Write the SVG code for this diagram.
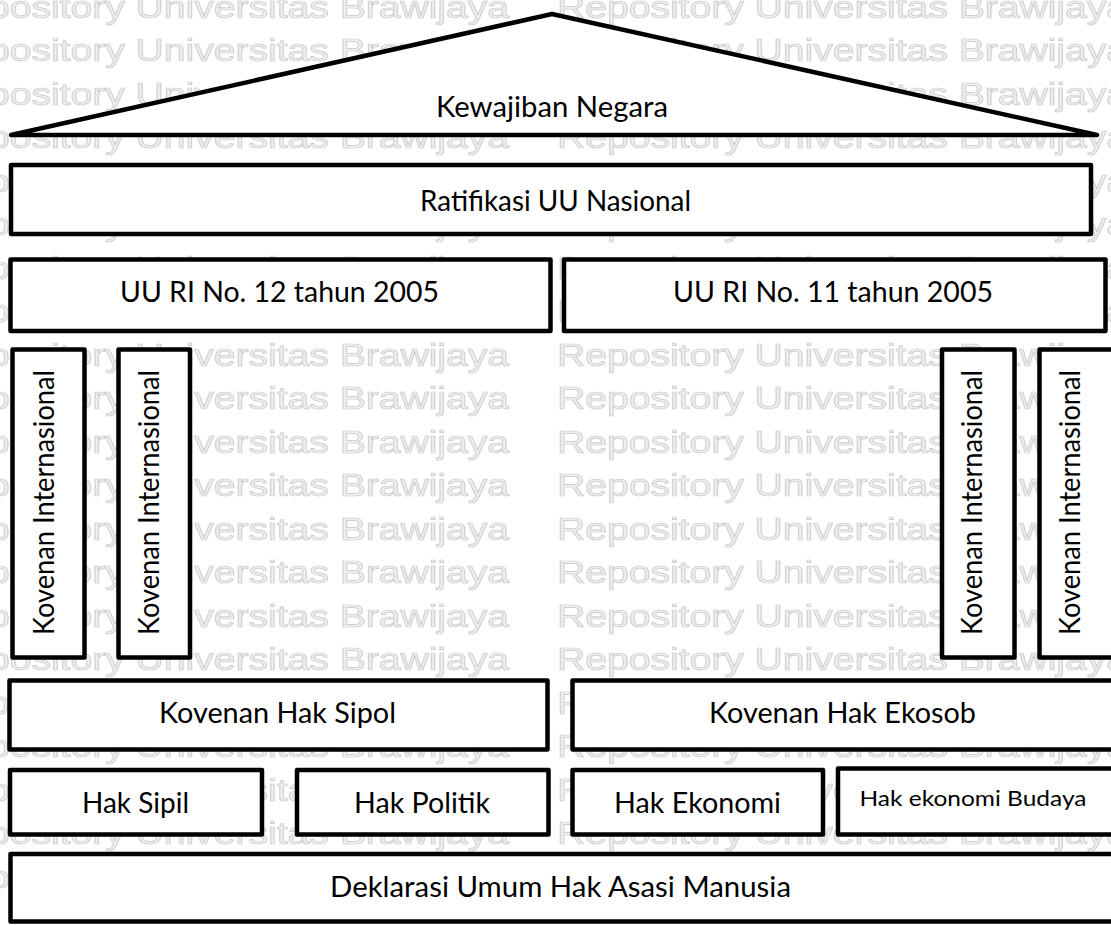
<svg xmlns="http://www.w3.org/2000/svg" width="1111" height="925" viewBox="0 0 1111 925">
  <style>
    .wm { font-family: "Liberation Sans", Arial, sans-serif; font-size: 31px; fill: #efefef; stroke: #c8c8c8; stroke-width: 0.7; }
    .box { fill: #ffffff; stroke: #000000; stroke-width: 4.5; stroke-linejoin: round; }
    .lbl { font-family: Lato, "Open Sans", sans-serif; font-size: 28px; fill: #000000; text-anchor: middle; }
    .sm { font-size: 22px; }
  </style>

  <rect width="1111" height="925" fill="#ffffff"/>

  <!-- background watermark rows -->
  <g id="watermark" class="wm">
    <text x="-62" y="17.5" textLength="571" lengthAdjust="spacingAndGlyphs">Repository Universitas Brawijaya</text>
    <text x="557" y="17.5" textLength="571" lengthAdjust="spacingAndGlyphs">Repository Universitas Brawijaya</text>
    <text x="-62" y="61" textLength="571" lengthAdjust="spacingAndGlyphs">Repository Universitas Brawijaya</text>
    <text x="557" y="61" textLength="571" lengthAdjust="spacingAndGlyphs">Repository Universitas Brawijaya</text>
    <text x="-62" y="104.5" textLength="571" lengthAdjust="spacingAndGlyphs">Repository Universitas Brawijaya</text>
    <text x="557" y="104.5" textLength="571" lengthAdjust="spacingAndGlyphs">Repository Universitas Brawijaya</text>
    <text x="-62" y="148" textLength="571" lengthAdjust="spacingAndGlyphs">Repository Universitas Brawijaya</text>
    <text x="557" y="148" textLength="571" lengthAdjust="spacingAndGlyphs">Repository Universitas Brawijaya</text>
    <text x="-62" y="191.5" textLength="571" lengthAdjust="spacingAndGlyphs">Repository Universitas Brawijaya</text>
    <text x="557" y="191.5" textLength="571" lengthAdjust="spacingAndGlyphs">Repository Universitas Brawijaya</text>
    <text x="-62" y="235" textLength="571" lengthAdjust="spacingAndGlyphs">Repository Universitas Brawijaya</text>
    <text x="557" y="235" textLength="571" lengthAdjust="spacingAndGlyphs">Repository Universitas Brawijaya</text>
    <text x="-62" y="278.5" textLength="571" lengthAdjust="spacingAndGlyphs">Repository Universitas Brawijaya</text>
    <text x="557" y="278.5" textLength="571" lengthAdjust="spacingAndGlyphs">Repository Universitas Brawijaya</text>
    <text x="-62" y="322" textLength="571" lengthAdjust="spacingAndGlyphs">Repository Universitas Brawijaya</text>
    <text x="557" y="322" textLength="571" lengthAdjust="spacingAndGlyphs">Repository Universitas Brawijaya</text>
    <text x="-62" y="365.5" textLength="571" lengthAdjust="spacingAndGlyphs">Repository Universitas Brawijaya</text>
    <text x="557" y="365.5" textLength="571" lengthAdjust="spacingAndGlyphs">Repository Universitas Brawijaya</text>
    <text x="-62" y="409" textLength="571" lengthAdjust="spacingAndGlyphs">Repository Universitas Brawijaya</text>
    <text x="557" y="409" textLength="571" lengthAdjust="spacingAndGlyphs">Repository Universitas Brawijaya</text>
    <text x="-62" y="452.5" textLength="571" lengthAdjust="spacingAndGlyphs">Repository Universitas Brawijaya</text>
    <text x="557" y="452.5" textLength="571" lengthAdjust="spacingAndGlyphs">Repository Universitas Brawijaya</text>
    <text x="-62" y="496" textLength="571" lengthAdjust="spacingAndGlyphs">Repository Universitas Brawijaya</text>
    <text x="557" y="496" textLength="571" lengthAdjust="spacingAndGlyphs">Repository Universitas Brawijaya</text>
    <text x="-62" y="539.5" textLength="571" lengthAdjust="spacingAndGlyphs">Repository Universitas Brawijaya</text>
    <text x="557" y="539.5" textLength="571" lengthAdjust="spacingAndGlyphs">Repository Universitas Brawijaya</text>
    <text x="-62" y="583" textLength="571" lengthAdjust="spacingAndGlyphs">Repository Universitas Brawijaya</text>
    <text x="557" y="583" textLength="571" lengthAdjust="spacingAndGlyphs">Repository Universitas Brawijaya</text>
    <text x="-62" y="626.5" textLength="571" lengthAdjust="spacingAndGlyphs">Repository Universitas Brawijaya</text>
    <text x="557" y="626.5" textLength="571" lengthAdjust="spacingAndGlyphs">Repository Universitas Brawijaya</text>
    <text x="-62" y="670" textLength="571" lengthAdjust="spacingAndGlyphs">Repository Universitas Brawijaya</text>
    <text x="557" y="670" textLength="571" lengthAdjust="spacingAndGlyphs">Repository Universitas Brawijaya</text>
    <text x="-62" y="713.5" textLength="571" lengthAdjust="spacingAndGlyphs">Repository Universitas Brawijaya</text>
    <text x="557" y="713.5" textLength="571" lengthAdjust="spacingAndGlyphs">Repository Universitas Brawijaya</text>
    <text x="-62" y="757" textLength="571" lengthAdjust="spacingAndGlyphs">Repository Universitas Brawijaya</text>
    <text x="557" y="757" textLength="571" lengthAdjust="spacingAndGlyphs">Repository Universitas Brawijaya</text>
    <text x="-62" y="800.5" textLength="571" lengthAdjust="spacingAndGlyphs">Repository Universitas Brawijaya</text>
    <text x="557" y="800.5" textLength="571" lengthAdjust="spacingAndGlyphs">Repository Universitas Brawijaya</text>
    <text x="-62" y="844" textLength="571" lengthAdjust="spacingAndGlyphs">Repository Universitas Brawijaya</text>
    <text x="557" y="844" textLength="571" lengthAdjust="spacingAndGlyphs">Repository Universitas Brawijaya</text>
    <text x="-62" y="887.5" textLength="571" lengthAdjust="spacingAndGlyphs">Repository Universitas Brawijaya</text>
    <text x="557" y="887.5" textLength="571" lengthAdjust="spacingAndGlyphs">Repository Universitas Brawijaya</text>
  </g>

  <!-- roof -->
  <g id="kewajiban-negara">
    <polygon class="box" points="11,135 552,14 1097,135"/>
    <text class="lbl" x="552" y="117" textLength="232" lengthAdjust="spacingAndGlyphs">Kewajiban Negara</text>
  </g>

  <g id="ratifikasi">
    <rect class="box" x="11" y="165" width="1080" height="69"/>
    <text class="lbl" x="555.5" y="211" textLength="271" lengthAdjust="spacingAndGlyphs">Ratifikasi UU Nasional</text>
  </g>

  <g id="uu-12-2005">
    <rect class="box" x="10.5" y="259.5" width="540" height="71.5"/>
    <text class="lbl" x="279.5" y="302" textLength="319" lengthAdjust="spacingAndGlyphs">UU RI No. 12 tahun 2005</text>
  </g>

  <g id="uu-11-2005">
    <rect class="box" x="564" y="259.5" width="541.5" height="71.5"/>
    <text class="lbl" x="833" y="302" textLength="320" lengthAdjust="spacingAndGlyphs">UU RI No. 11 tahun 2005</text>
  </g>

  <!-- pillars -->
  <g id="kovenan-internasional-1">
    <rect class="box" x="12.5" y="349.5" width="72" height="308"/>
    <text class="lbl" transform="translate(54,502.5) rotate(-90)" textLength="265" lengthAdjust="spacingAndGlyphs">Kovenan Internasional</text>
  </g>
  <g id="kovenan-internasional-2">
    <rect class="box" x="118.5" y="349.5" width="71.5" height="308"/>
    <text class="lbl" transform="translate(159,502.5) rotate(-90)" textLength="265" lengthAdjust="spacingAndGlyphs">Kovenan Internasional</text>
  </g>
  <g id="kovenan-internasional-3">
    <rect class="box" x="942" y="349.5" width="72.5" height="308"/>
    <text class="lbl" transform="translate(982,502.5) rotate(-90)" textLength="265" lengthAdjust="spacingAndGlyphs">Kovenan Internasional</text>
  </g>
  <g id="kovenan-internasional-4">
    <rect class="box" x="1039.5" y="349.5" width="80" height="308"/>
    <text class="lbl" transform="translate(1080,502.5) rotate(-90)" textLength="265" lengthAdjust="spacingAndGlyphs">Kovenan Internasional</text>
  </g>

  <g id="kovenan-sipol">
    <rect class="box" x="9.5" y="680.5" width="538" height="69"/>
    <text class="lbl" x="277.5" y="723" textLength="237" lengthAdjust="spacingAndGlyphs">Kovenan Hak Sipol</text>
  </g>

  <g id="kovenan-ekosob">
    <rect class="box" x="572.5" y="680.5" width="548" height="69"/>
    <text class="lbl" x="842.5" y="723" textLength="267" lengthAdjust="spacingAndGlyphs">Kovenan Hak Ekosob</text>
  </g>

  <g id="hak-sipil">
    <rect class="box" x="10" y="770" width="252" height="64.5"/>
    <text class="lbl" x="135.5" y="813" textLength="107" lengthAdjust="spacingAndGlyphs">Hak Sipil</text>
  </g>

  <g id="hak-politik">
    <rect class="box" x="297" y="770" width="251.5" height="64.5"/>
    <text class="lbl" x="422" y="813" textLength="136" lengthAdjust="spacingAndGlyphs">Hak Politik</text>
  </g>

  <g id="hak-ekonomi">
    <rect class="box" x="572.5" y="770" width="250.5" height="64.5"/>
    <text class="lbl" x="697.5" y="813" textLength="167" lengthAdjust="spacingAndGlyphs">Hak Ekonomi</text>
  </g>

  <g id="hak-ekonomi-budaya">
    <rect class="box" x="838" y="768.5" width="282" height="66"/>
    <text class="lbl sm" x="973" y="806" textLength="227" lengthAdjust="spacingAndGlyphs">Hak ekonomi Budaya</text>
  </g>

  <!-- foundation -->
  <g id="deklarasi">
    <rect class="box" x="10.5" y="854" width="1110" height="67.5"/>
    <text class="lbl" x="560.5" y="897" textLength="461" lengthAdjust="spacingAndGlyphs">Deklarasi Umum Hak Asasi Manusia</text>
  </g>
</svg>
